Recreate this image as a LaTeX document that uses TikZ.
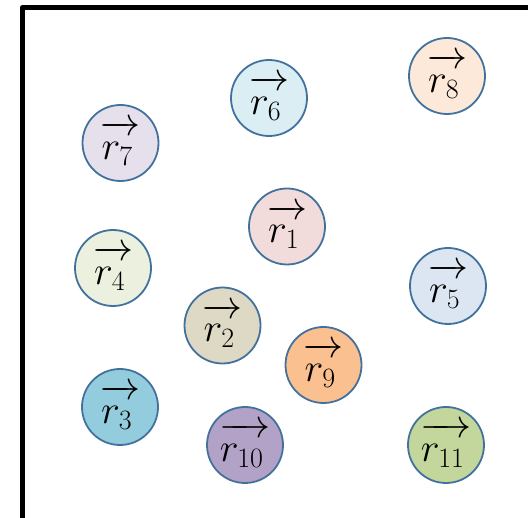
\RequirePackage{fix-cm}
\documentclass[tikz,border=0pt]{standalone}
\usepackage{xcolor}
\definecolor{cborder}{HTML}{41719C}
\definecolor{c1}{HTML}{F2DCDB}
\definecolor{c2}{HTML}{DDD9C4}
\definecolor{c3}{HTML}{93CDDD}
\definecolor{c4}{HTML}{EBF1DE}
\definecolor{c5}{HTML}{DCE6F2}
\definecolor{c6}{HTML}{DAEEF3}
\definecolor{c7}{HTML}{E5E0EC}
\definecolor{c8}{HTML}{FDE9D9}
\definecolor{c9}{HTML}{FAC090}
\definecolor{c10}{HTML}{B3A2C7}
\definecolor{c11}{HTML}{C3D69B}
\newcommand{\vlab}[1]{$\overrightarrow{r_{#1}\,\vphantom{t}}$}
\begin{document}
\begin{tikzpicture}[x=1pt,y=-1pt,
  ball/.style={circle, draw=cborder, line width=1.8pt, minimum size=76pt, inner sep=0pt,
    font=\fontsize{40}{46}\selectfont}]
\useasboundingbox (0,0) rectangle (528,518);
\coordinate (tr) at (528,7.5);
\coordinate (bl) at (22.5,518);
\draw[line width=5pt, line join=round] (tr) -| (bl);
\node[ball, fill=c6] (r6) at (269,98) {\vlab{6}};
\node[ball, fill=c8] (r8) at (447,76) {\vlab{8}};
\node[ball, fill=c7] (r7) at (120.5,143) {\vlab{7}};
\node[ball, fill=c1] (r1) at (287,226.5) {\vlab{1}};
\node[ball, fill=c4] (r4) at (113,268) {\vlab{4}};
\node[ball, fill=c5] (r5) at (448,286) {\vlab{5}};
\node[ball, fill=c2] (r2) at (222.5,325.5) {\vlab{2}};
\node[ball, fill=c9] (r9) at (323.5,365) {\vlab{9}};
\node[ball, fill=c3] (r3) at (120,407) {\vlab{3}};
\node[ball, fill=c10] (r10) at (245,445) {\vlab{10}};
\node[ball, fill=c11] (r11) at (446,445) {\vlab{11}};
\end{tikzpicture}
\end{document}
